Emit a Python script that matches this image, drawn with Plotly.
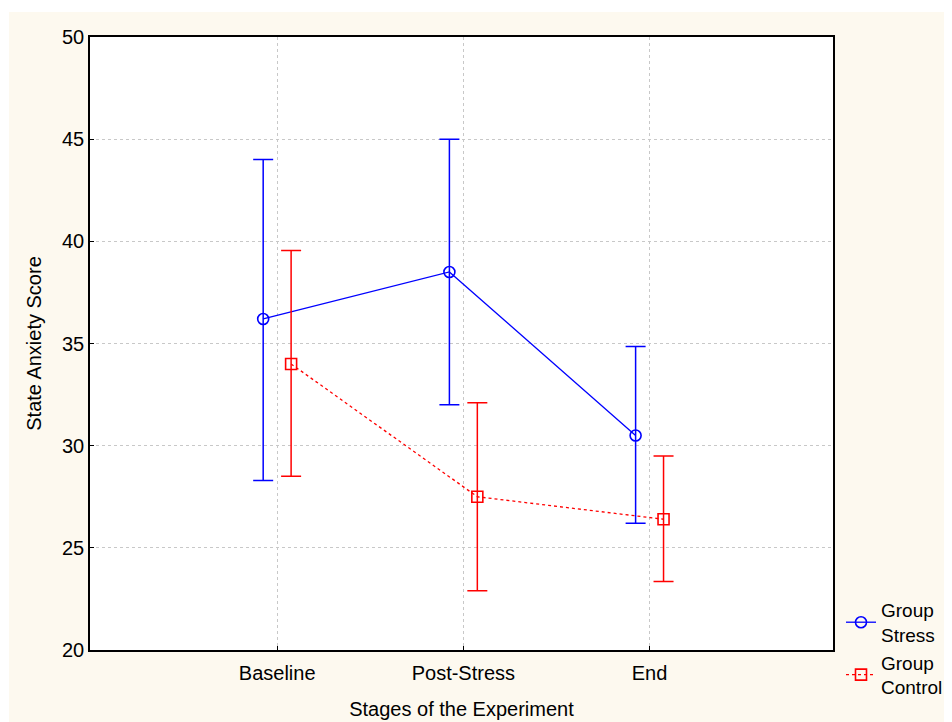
import plotly.graph_objects as go

categories = ["Baseline", "Post-Stress", "End"]
stress_mean = [36.2, 38.5, 30.5]
stress_upper = [44.0, 45.0, 34.85]
stress_lower = [28.3, 32.0, 26.2]
control_mean = [34.0, 27.5, 26.4]
control_upper = [39.55, 32.1, 29.5]
control_lower = [28.5, 22.9, 23.35]
y_ticks = [20, 25, 30, 35, 40, 45, 50]

W, H = 952, 722
L, R, T, B = 82, 127, 29, 80
pw, ph = W - L - R, H - T - B

pos = list(range(len(categories)))
off = 0.075

def px_x(p):
    return (p - L) / pw

def px_y(p):
    return (H - B - p) / ph

fig = go.Figure()
fig.add_trace(go.Scatter(
    x=[p - off for p in pos], y=stress_mean, name="Group<br>Stress",
    mode="lines+markers",
    line=dict(color="#0000FF", width=1.3),
    marker=dict(symbol="circle-open", size=11, color="#0000FF", line=dict(width=1.6)),
    error_y=dict(type="data", symmetric=False,
                 array=[u - m for u, m in zip(stress_upper, stress_mean)],
                 arrayminus=[m - l for m, l in zip(stress_mean, stress_lower)],
                 color="#0000FF", thickness=1.5, width=10),
))
fig.add_trace(go.Scatter(
    x=[p + off for p in pos], y=control_mean, name="Group<br>Control",
    mode="lines+markers",
    line=dict(color="#FF0000", width=1.3, dash="dot"),
    marker=dict(symbol="square-open", size=11, color="#FF0000", line=dict(width=1.6)),
    error_y=dict(type="data", symmetric=False,
                 array=[u - m for u, m in zip(control_upper, control_mean)],
                 arrayminus=[m - l for m, l in zip(control_mean, control_lower)],
                 color="#FF0000", thickness=1.5, width=10),
))

shapes = [
    dict(type="rect", xref="paper", yref="paper", x0=px_x(0), x1=px_x(W), y0=px_y(0), y1=px_y(4),
         fillcolor="white", line=dict(width=0), layer="below"),
    dict(type="rect", xref="paper", yref="paper", x0=px_x(0), x1=px_x(1), y0=px_y(H), y1=px_y(0),
         fillcolor="white", line=dict(width=0), layer="below"),
]

fig.update_layout(
    width=W, height=H,
    margin=dict(l=L, r=R, t=T, b=B, autoexpand=False),
    paper_bgcolor="#FDF9EF",
    plot_bgcolor="white",
    font=dict(family="Liberation Sans, Arial, sans-serif", size=20, color="black"),
    shapes=shapes,
    showlegend=True,
    legend=dict(x=px_x(833), y=px_y(583), xanchor="left", yanchor="top",
                bgcolor="rgba(0,0,0,0)", font=dict(size=19), tracegroupgap=0,
                itemwidth=30),
    xaxis=dict(range=[-1.005, 2.985], tickvals=pos, ticktext=categories,
               showgrid=True, gridcolor="#C8C8C8", griddash="dot", gridwidth=1,
               showline=True, linecolor="black", linewidth=1.5, mirror=True,
               ticks="inside", ticklen=4, tickcolor="black", zeroline=False,
               ticklabelstandoff=4, automargin=False,
               title=dict(text="Stages of the Experiment", font=dict(size=20), standoff=19)),
    yaxis=dict(range=[20, 50], tickvals=y_ticks,
               showgrid=True, gridcolor="#C8C8C8", griddash="dot", gridwidth=1,
               showline=True, linecolor="black", linewidth=1.5, mirror=True,
               ticks="inside", ticklen=4, tickcolor="black", zeroline=False,
               automargin=False,
               title=dict(text="State Anxiety Score", font=dict(size=20), standoff=15)),
)

fig.write_html("out.html")
